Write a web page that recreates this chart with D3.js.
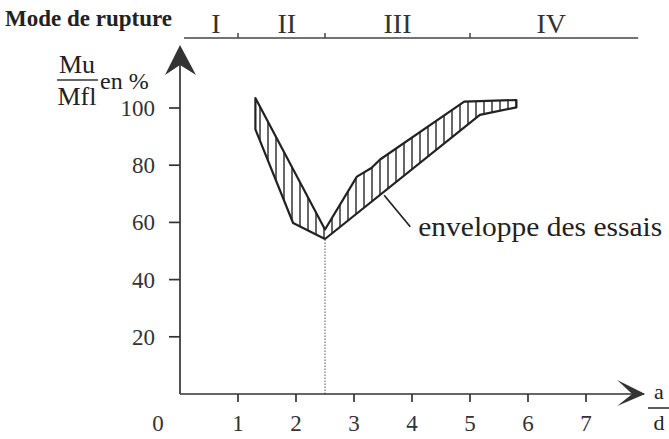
<!DOCTYPE html>
<html><head><meta charset="utf-8">
<script src="https://cdn.jsdelivr.net/npm/d3@7"></script>
<style>
html,body{margin:0;padding:0;background:#fff;}
svg{display:block;}
text{font-family:"Liberation Serif","Times New Roman",serif;fill:#222;}
</style></head>
<body>
<svg id="chart" width="669" height="439"></svg>
<script>
// ---- data ----
const xTicks = [1, 2, 3, 4, 5, 6, 7];
const yTicks = [20, 40, 60, 80, 100];
const modeBounds = [1, 2.5, 5];          // limits between failure modes (a/d)
const modeLabels = ["I", "II", "III", "IV"];
const modeLabelX = [0.62, 1.84, 3.75, 6.4];
const modeLineExtent = [0.07, 7.9];
// envelope of tests (a/d, Mu/Mfl %)
const upperX = [1.3, 2.5, 3.05, 3.3, 3.45, 4.9, 5.8];
const upperY = [103.5, 57.5, 76, 79, 82, 102.2, 102.8];
const lowerX = [1.3, 1.95, 2.5, 5.17, 5.8];
const lowerY = [92.5, 59.8, 54.2, 97.6, 100.2];
const minimumX = 2.5;
const minimumY = 54.2;
const annotText = "enveloppe des essais";
const annotFrom = [3.52, 69.5];
const annotTo = [3.97, 58.5];

// ---- layout ----
const svg = d3.select("#chart");
const x = d3.scaleLinear().domain([0, 7]).range([180, 586]);
const y = d3.scaleLinear().domain([0, 100]).range([394, 108]);
const ink = "#222";

// hatch pattern
const defs = svg.append("defs");
const pat = defs.append("pattern").attr("id", "hatch")
  .attr("patternUnits", "userSpaceOnUse").attr("width", 8).attr("height", 8);
pat.append("line").attr("x1", 4).attr("x2", 4).attr("y1", 0).attr("y2", 8)
  .attr("stroke", "#333").attr("stroke-width", 1.5);

// title / mode band
svg.append("text").attr("x", 5).attr("y", 26)
  .style("font-weight", "bold").style("font-size", "23px").text("Mode de rupture");
const bandY = 38;
svg.append("line").attr("x1", x(modeLineExtent[0])).attr("x2", x(modeLineExtent[1]))
  .attr("y1", bandY).attr("y2", bandY).attr("stroke", "#444").attr("stroke-width", 1.5);
svg.selectAll(".mtick").data(modeBounds).enter().append("line")
  .attr("x1", d => x(d)).attr("x2", d => x(d))
  .attr("y1", bandY - 5).attr("y2", bandY).attr("stroke", "#444").attr("stroke-width", 1.5);
svg.selectAll(".mlab").data(modeLabels).enter().append("text")
  .attr("x", (d, i) => x(modeLabelX[i])).attr("y", bandY - 5)
  .attr("text-anchor", "middle").style("font-size", "28px").style("fill", "#333").text(d => d);

// envelope
const line = d3.line().x(d => x(d[0])).y(d => y(d[1]));
const upper = upperX.map((v, i) => [v, upperY[i]]);
const lower = lowerX.map((v, i) => [v, lowerY[i]]);
const poly = upper.concat(lower.slice().reverse());
svg.append("path").attr("d", line(poly) + "Z")
  .attr("fill", "url(#hatch)").attr("stroke", ink).attr("stroke-width", 2.2)
  .attr("stroke-linejoin", "round");

// dotted line at minimum
svg.append("line").attr("x1", x(minimumX)).attr("x2", x(minimumX))
  .attr("y1", y(0)).attr("y2", y(minimumY))
  .attr("stroke", "#555").attr("stroke-width", 1).attr("stroke-dasharray", "1.5,1.5");

// axes
svg.append("line").attr("x1", x(0)).attr("x2", x(8.0)).attr("y1", y(0)).attr("y2", y(0))
  .attr("stroke", "#333").attr("stroke-width", 1.7);
svg.append("line").attr("x1", x(0)).attr("x2", x(0)).attr("y1", y(0)).attr("y2", y(121))
  .attr("stroke", "#333").attr("stroke-width", 1.7);
// arrowheads
const tx = x(8.02), ty = y(0);
svg.append("path").attr("d", `M${tx},${ty} L${tx-28},${ty-14} L${tx-13},${ty} L${tx-28},${ty+12} Z`).attr("fill", "#333");
const ax = x(0), ay = y(122);
svg.append("path").attr("d", `M${ax},${ay} L${ax-15},${ay+30} L${ax},${ay+20} L${ax+16},${ay+30} Z`).attr("fill", "#333");

// ticks
svg.selectAll(".xt").data(xTicks).enter().append("line")
  .attr("x1", d => x(d)).attr("x2", d => x(d)).attr("y1", y(0)).attr("y2", y(0) + 8)
  .attr("stroke", "#333").attr("stroke-width", 1.7);
svg.selectAll(".xl").data(xTicks).enter().append("text")
  .attr("x", d => x(d)).attr("y", y(0) + 37).attr("text-anchor", "middle")
  .style("font-size", "23px").style("fill", "#333").text(d => d);
svg.append("text").attr("x", x(0) - 22).attr("y", y(0) + 37).attr("text-anchor", "middle")
  .style("font-size", "23px").style("fill", "#333").text("0");
svg.selectAll(".yt").data(yTicks).enter().append("line")
  .attr("x1", x(0) - 11).attr("x2", x(0)).attr("y1", d => y(d)).attr("y2", d => y(d))
  .attr("stroke", "#333").attr("stroke-width", 1.7);
svg.selectAll(".yl").data(yTicks).enter().append("text")
  .attr("x", x(0) - 25).attr("y", d => y(d) + 8).attr("text-anchor", "end")
  .style("font-size", "23px").style("fill", "#333").text(d => d);

// y label Mu/Mfl en %
svg.append("text").attr("x", 77).attr("y", 73).attr("text-anchor", "middle").style("font-size", "26px").text("Mu");
svg.append("line").attr("x1", 57).attr("x2", 98).attr("y1", 80).attr("y2", 80).attr("stroke", "#333").attr("stroke-width", 1.6);
svg.append("text").attr("x", 77).attr("y", 105).attr("text-anchor", "middle").style("font-size", "26px").text("Mfl");
svg.append("text").attr("x", 100).attr("y", 89).style("font-size", "24px").text("en %");

// x label a/d
svg.append("text").attr("x", 659).attr("y", 399).attr("text-anchor", "middle").style("font-size", "22px").text("a");
svg.append("line").attr("x1", 648).attr("x2", 669).attr("y1", 408).attr("y2", 408).attr("stroke", "#333").attr("stroke-width", 1.6);
svg.append("text").attr("x", 659).attr("y", 430).attr("text-anchor", "middle").style("font-size", "22px").text("d");

// annotation
svg.append("line").attr("x1", x(annotFrom[0])).attr("y1", y(annotFrom[1]))
  .attr("x2", x(annotTo[0])).attr("y2", y(annotTo[1])).attr("stroke", ink).attr("stroke-width", 1.7);
svg.append("text").attr("x", x(annotTo[0]) + 8).attr("y", y(annotTo[1]) + 9)
  .attr("textLength", 244).attr("lengthAdjust", "spacingAndGlyphs")
  .style("font-size", "27px").text(annotText);
</script>
</body></html>
